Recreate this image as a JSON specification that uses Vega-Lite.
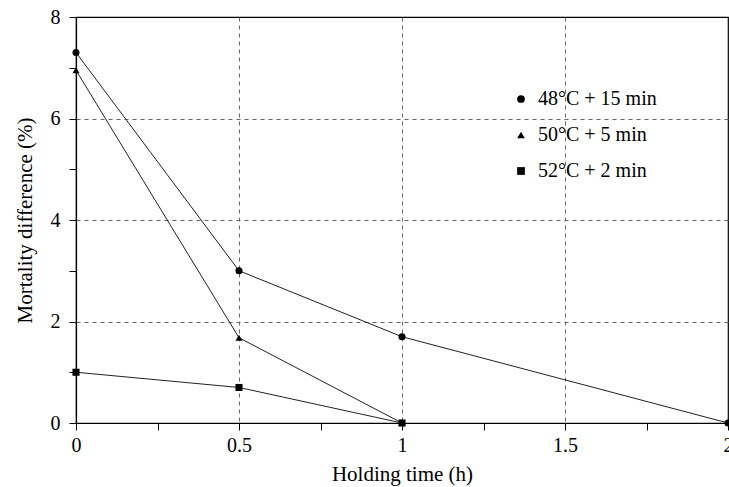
{
  "$schema": "https://vega.github.io/schema/vega-lite/v6.json",
  "width": 652,
  "height": 406,
  "autosize": {"type": "none"},
  "padding": {"left": 76, "top": 17, "right": 1, "bottom": 64},
  "background": "white",
  "config": {
    "font": "Liberation Serif",
    "view": {"stroke": "black", "strokeWidth": 1.2},
    "axis": {
      "labelFont": "Liberation Serif",
      "titleFont": "Liberation Serif",
      "labelFontSize": 20,
      "titleFontSize": 21,
      "titleFontWeight": "normal",
      "labelColor": "black",
      "titleColor": "black",
      "domainColor": "black",
      "domainWidth": 1.2,
      "tickColor": "black",
      "tickSize": 7,
      "tickWidth": 1,
      "gridColor": "#666",
      "gridDash": [4, 4],
      "gridWidth": 1
    }
  },
  "data": {
    "values": [
      {"series": "48°C + 15 min", "time": 0, "mortality": 7.3},
      {"series": "48°C + 15 min", "time": 0.5, "mortality": 3.0},
      {"series": "48°C + 15 min", "time": 1, "mortality": 1.7},
      {"series": "48°C + 15 min", "time": 2, "mortality": 0},
      {"series": "50°C + 5 min", "time": 0, "mortality": 6.95},
      {"series": "50°C + 5 min", "time": 0.5, "mortality": 1.68},
      {"series": "50°C + 5 min", "time": 1, "mortality": 0},
      {"series": "52°C + 2 min", "time": 0, "mortality": 1.0},
      {"series": "52°C + 2 min", "time": 0.5, "mortality": 0.7},
      {"series": "52°C + 2 min", "time": 1, "mortality": 0}
    ]
  },
  "encoding": {
    "x": {
      "field": "time",
      "type": "quantitative",
      "scale": {"domain": [0, 2], "nice": false, "zero": false},
      "axis": {
        "title": "Holding time (h)",
        "values": [0, 0.25, 0.5, 0.75, 1, 1.25, 1.5, 1.75, 2],
        "format": "~g",
        "labelExpr": "datum.value % 0.5 == 0 ? datum.label : ''",
        "labelPadding": 5,
        "titlePadding": 8,
        "labelFlush": false,
        "grid": true,
        "gridOpacity": {"condition": {"test": "datum.value % 0.5 != 0 || datum.value == 0 || datum.value == 2", "value": 0}, "value": 1}
      }
    },
    "y": {
      "field": "mortality",
      "type": "quantitative",
      "scale": {"domain": [0, 8], "nice": false},
      "axis": {
        "title": "Mortality difference (%)",
        "values": [0, 1, 2, 3, 4, 5, 6, 7, 8],
        "format": "~g",
        "labelExpr": "datum.value % 2 == 0 ? datum.label : ''",
        "labelPadding": 9,
        "titlePadding": 15,
        "labelFlush": false,
        "grid": true,
        "gridOpacity": {"condition": {"test": "datum.value % 2 == 1 || datum.value == 0 || datum.value == 8", "value": 0}, "value": 1}
      }
    }
  },
  "layer": [
    {
      "mark": {"type": "line", "color": "#222", "strokeWidth": 1},
      "encoding": {"detail": {"field": "series", "type": "nominal"}}
    },
    {
      "mark": {"type": "point", "filled": true, "color": "black", "opacity": 1},
      "encoding": {
        "size": {"value": 50},
        "shape": {
          "field": "series",
          "type": "nominal",
          "scale": {
            "domain": ["48°C + 15 min", "50°C + 5 min", "52°C + 2 min"],
            "range": ["circle", "triangle-up", "square"]
          },
          "legend": {
            "title": null,
            "orient": "none",
            "legendX": 435,
            "legendY": 72,
            "padding": 0,
            "labelFont": "Liberation Serif",
            "labelFontSize": 20,
            "labelColor": "black",
            "labelOffset": 7,
            "symbolSize": 60,
            "symbolFillColor": "black",
            "symbolStrokeColor": "black",
            "symbolOpacity": 1,
            "rowPadding": 16
          }
        }
      }
    }
  ]
}
